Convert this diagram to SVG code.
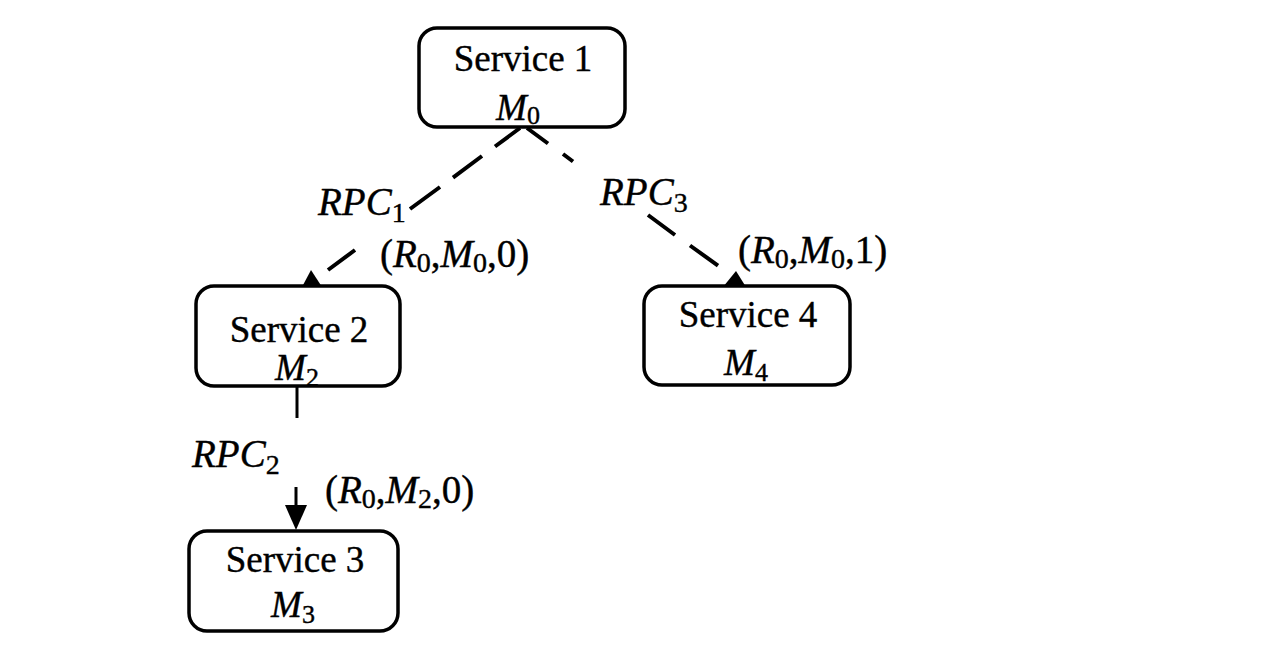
<svg xmlns="http://www.w3.org/2000/svg" width="1276" height="660" viewBox="0 0 1276 660">
<style>
.box{fill:#fff;stroke:#000;stroke-width:3.5}
.t{font-family:"Liberation Serif","Times New Roman",serif;font-size:37px;fill:#000;stroke:#000;stroke-width:0.4}
.l{font-size:39px}
.i{font-style:italic}
.s{font-size:26px;font-style:normal}
.ls{font-size:28px;font-style:normal}
.dash{fill:none;stroke:#000;stroke-width:4}
.solid{fill:none;stroke:#000;stroke-width:3}
.head{fill:#000}
</style>
<rect width="1276" height="660" fill="#fff"/>
<g id="connectors">
<path class="dash" d="M520,128L495,146.5M482,156L453,177.6M440,187L410,209M355,250L328,270"/>
<polygon class="head" points="302,287 322,287 311,270"/>
<path class="dash" d="M527,128L548,143.5M563,154L573,161.5M648,215L675,235M690,245.5L718,265.6"/>
<polygon class="head" points="723,287 746,287 736,271"/>
<line class="solid" x1="297" y1="387" x2="297" y2="418"/>
<line class="solid" x1="296" y1="487" x2="296" y2="512"/>
<polygon class="head" points="285,505 307,505 296,530"/>
<text class="t l i" x="318" y="215">RPC<tspan class="ls" dy="7">1</tspan></text>
<text class="t l i" x="600" y="205">RPC<tspan class="ls" dy="7">3</tspan></text>
<text class="t l i" x="192" y="467">RPC<tspan class="ls" dy="7">2</tspan></text>
<text class="t l" x="380" y="267">(<tspan class="i">R</tspan><tspan class="ls" dy="5">0</tspan><tspan dy="-5">,</tspan><tspan class="i">M</tspan><tspan class="ls" dy="5">0</tspan><tspan dy="-5">,0)</tspan></text>
<text class="t l" x="738" y="263">(<tspan class="i">R</tspan><tspan class="ls" dy="5">0</tspan><tspan dy="-5">,</tspan><tspan class="i">M</tspan><tspan class="ls" dy="5">0</tspan><tspan dy="-5">,1)</tspan></text>
<text class="t l" x="325" y="503">(<tspan class="i">R</tspan><tspan class="ls" dy="5">0</tspan><tspan dy="-5">,</tspan><tspan class="i">M</tspan><tspan class="ls" dy="5">2</tspan><tspan dy="-5">,0)</tspan></text>
</g>
<g id="service1">
<rect class="box" x="419" y="28" width="206" height="99" rx="18"/>
<text class="t" x="523" y="71" text-anchor="middle">Service 1</text>
<text class="t i" x="518" y="120" text-anchor="middle">M<tspan class="s" dy="4">0</tspan></text>
</g>
<g id="service2">
<rect class="box" x="196" y="286" width="204" height="100" rx="18"/>
<text class="t" x="299" y="342" text-anchor="middle">Service 2</text>
<text class="t i" x="297" y="380" text-anchor="middle">M<tspan class="s" dy="6">2</tspan></text>
</g>
<g id="service3">
<rect class="box" x="189" y="531" width="209" height="100" rx="18"/>
<text class="t" x="295" y="572" text-anchor="middle">Service 3</text>
<text class="t i" x="293" y="617" text-anchor="middle">M<tspan class="s" dy="6">3</tspan></text>
</g>
<g id="service4">
<rect class="box" x="644" y="286" width="206" height="99" rx="18"/>
<text class="t" x="748" y="327" text-anchor="middle">Service 4</text>
<text class="t i" x="746" y="375" text-anchor="middle">M<tspan class="s" dy="6">4</tspan></text>
</g>
</svg>
